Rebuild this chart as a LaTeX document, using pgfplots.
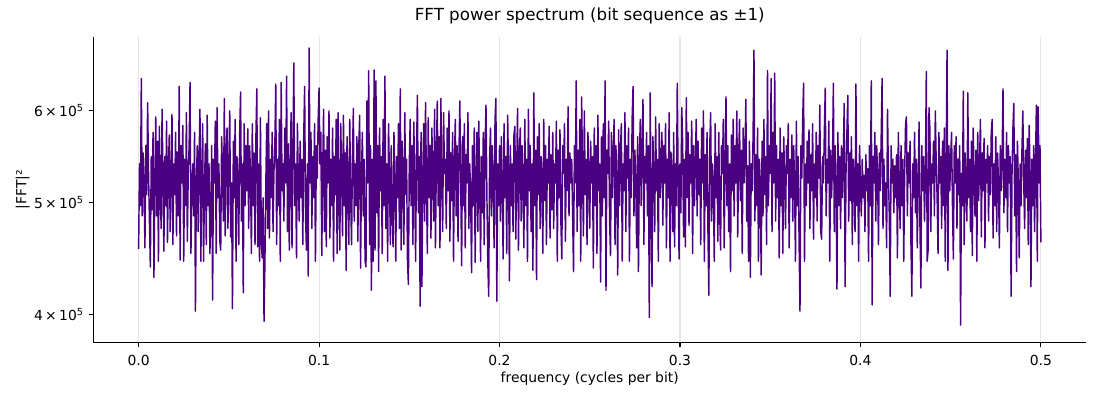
\documentclass[border=0pt]{standalone}
\usepackage{fontspec}
\setmainfont{DejaVu Sans}
\usepackage{pgfplots}
\pgfplotsset{compat=1.18}
\definecolor{indigo}{HTML}{4B0082}
\definecolor{gridc}{HTML}{E6E6E6}
\begin{document}
\begin{tikzpicture}
\path[use as bounding box] (-67.32pt,-41.54pt) rectangle (724.68pt,246.46pt);
\begin{axis}[
  scale only axis, width=714.6pt, height=219.6pt,
  ymode=log,
  xmin=-0.025, xmax=0.525, ymin=378900, ymax=694800,
  axis x line*=bottom, axis y line*=left,
  axis line style={line width=0.8pt, black},
  xtick={0,0.1,0.2,0.3,0.4,0.5},
  xticklabels={0.0,0.1,0.2,0.3,0.4,0.5},
  ytick={400000,500000,600000},
  yticklabels={4\,×\,10\textsuperscript{5},5\,×\,10\textsuperscript{5},6\,×\,10\textsuperscript{5}},
  yminorticks=false, xminorticks=false,
  tick align=outside, major tick length=3.5pt,
  tick style={line width=0.8pt, black},
  xmajorgrids, grid style={gridc, line width=0.8pt},
  tick label style={font=\fontsize{10}{12}\selectfont},
  xticklabel style={anchor=north, yshift=-2pt},
  yticklabel style={anchor=east},
  title={FFT power spectrum (bit sequence as ±1)},
  title style={at={(0.5,1)}, anchor=base, yshift=6pt, font=\fontsize{12}{14}\selectfont},
  xlabel={frequency (cycles per bit)},
  xlabel style={at={(axis description cs:0.5,0)}, anchor=center, yshift=-26.5pt, font=\fontsize{10}{12}\selectfont},
  ylabel={|FFT|²},
  ylabel style={at={(axis description cs:0,0.5)}, anchor=center, rotate=0, yshift=51pt, font=\fontsize{10}{12}\selectfont},
]
\addplot[indigo, line width=1.05pt, line join=round, mark=none] table[header=false, row sep=\\, x expr=\coordindex*0.0005, y expr=\thisrowno{0}*1000] {
456\\540\\497\\640\\487\\552\\520\\457\\560\\508\\610\\530\\482\\440\\548\\493\\575\\431\\520\\593\\
487\\565\\445\\582\\512\\475\\602\\528\\454\\548\\497\\588\\462\\535\\572\\472\\525\\596\\460\\540\\
508\\575\\468\\553\\487\\630\\446\\560\\520\\583\\445\\545\\497\\598\\463\\530\\560\\635\\452\\520\\
540\\487\\575\\403\\520\\560\\472\\545\\602\\445\\530\\585\\445\\517\\562\\460\\595\\497\\540\\452\\
487\\560\\412\\545\\520\\588\\452\\604\\505\\540\\463\\455\\570\\530\\482\\615\\468\\552\\580\\475\\
540\\600\\467\\520\\405\\565\\505\\590\\445\\548\\525\\460\\572\\623\\482\\540\\418\\585\\497\\560\\
512\\579\\475\\560\\530\\452\\585\\497\\552\\460\\570\\627\\458\\540\\445\\592\\462\\448\\505\\395\\
445\\520\\585\\475\\600\\466\\545\\505\\575\\472\\532\\560\\633\\460\\545\\497\\590\\445\\635\\512\\
540\\482\\580\\520\\643\\472\\562\\455\\530\\598\\457\\550\\660\\497\\540\\448\\585\\520\\482\\565\\
505\\545\\460\\570\\630\\487\\455\\540\\432\\680\\520\\575\\475\\548\\505\\585\\445\\560\\525\\590\\
628\\540\\575\\450\\530\\602\\472\\555\\458\\570\\520\\600\\466\\545\\497\\580\\445\\548\\508\\590\\
452\\598\\505\\455\\585\\530\\468\\595\\497\\552\\437\\570\\520\\460\\590\\508\\460\\548\\603\\482\\
540\\497\\570\\463\\558\\595\\439\\530\\575\\487\\545\\445\\440\\612\\520\\650\\460\\560\\420\\545\\
445\\651\\455\\637\\490\\560\\436\\580\\512\\548\\452\\590\\497\\643\\475\\540\\445\\585\\525\\460\\
560\\490\\458\\575\\525\\445\\548\\505\\585\\475\\627\\455\\565\\530\\460\\598\\508\\545\\445\\425\\
540\\590\\497\\560\\460\\587\\520\\445\\555\\619\\490\\548\\407\\575\\423\\530\\585\\482\\610\\520\\
452\\592\\505\\560\\466\\580\\525\\482\\602\\457\\545\\612\\497\\570\\457\\615\\520\\472\\598\\530\\
545\\475\\580\\512\\600\\463\\552\\502\\575\\445\\540\\590\\487\\560\\463\\548\\612\\520\\441\\570\\
497\\585\\457\\550\\520\\598\\475\\540\\508\\435\\560\\497\\580\\444\\530\\575\\472\\588\\520\\445\\
548\\490\\575\\460\\560\\607\\508\\445\\415\\545\\580\\487\\560\\520\\457\\590\\615\\411\\540\\497\\
560\\482\\570\\520\\447\\585\\505\\548\\452\\595\\530\\428\\560\\497\\540\\472\\572\\582\\465\\530\\
603\\455\\548\\580\\482\\560\\520\\457\\590\\497\\545\\445\\602\\512\\560\\472\\540\\437\\622\\497\\
555\\429\\570\\508\\585\\475\\548\\525\\452\\590\\502\\560\\460\\545\\520\\582\\466\\550\\493\\575\\
475\\540\\520\\588\\445\\555\\505\\578\\482\\447\\560\\530\\585\\463\\545\\512\\605\\487\\552\\520\\
545\\490\\436\\560\\520\\637\\472\\555\\497\\590\\445\\617\\530\\468\\600\\508\\545\\460\\575\\525\\
475\\565\\520\\548\\439\\580\\497\\560\\452\\595\\512\\540\\427\\570\\487\\585\\505\\637\\420\\555\\
530\\588\\482\\450\\575\\505\\548\\590\\460\\560\\520\\433\\578\\497\\552\\585\\445\\540\\512\\598\\
472\\560\\525\\580\\445\\545\\505\\592\\630\\487\\555\\520\\457\\570\\436\\545\\590\\497\\560\\614\\
460\\548\\520\\575\\487\\560\\398\\622\\497\\423\\570\\530\\472\\593\\512\\545\\445\\585\\505\\540\\
575\\478\\560\\520\\585\\457\\545\\505\\598\\445\\553\\530\\472\\575\\458\\540\\497\\634\\520\\447\\
540\\490\\604\\560\\467\\545\\458\\616\\505\\575\\478\\550\\520\\588\\452\\560\\497\\540\\590\\487\\
565\\508\\545\\460\\580\\520\\600\\445\\550\\497\\575\\472\\416\\560\\598\\482\\540\\520\\445\\585\\
505\\548\\463\\575\\490\\455\\560\\530\\590\\457\\545\\617\\497\\560\\472\\540\\436\\572\\512\\590\\
487\\560\\520\\600\\467\\545\\590\\502\\555\\452\\580\\520\\548\\614\\482\\538\\445\\565\\431\\540\\
512\\570\\677\\482\\550\\497\\580\\445\\545\\520\\433\\565\\487\\590\\508\\548\\460\\650\\497\\560\\
530\\640\\472\\575\\520\\647\\482\\560\\505\\545\\448\\580\\497\\552\\452\\570\\520\\475\\560\\530\\
585\\457\\545\\505\\572\\482\\560\\520\\445\\588\\497\\548\\463\\403\\560\\525\\590\\634\\445\\540\\
497\\565\\520\\578\\475\\550\\512\\585\\465\\540\\505\\575\\482\\560\\525\\607\\472\\465\\548\\520\\
575\\628\\487\\545\\520\\588\\445\\555\\505\\540\\634\\472\\560\\512\\421\\575\\497\\548\\475\\560\\
505\\545\\609\\423\\530\\575\\619\\482\\552\\502\\570\\460\\545\\520\\472\\633\\497\\540\\445\\560\\
520\\487\\545\\505\\528\\472\\550\\512\\535\\445\\560\\497\\637\\408\\548\\520\\575\\482\\560\\530\\
460\\552\\512\\570\\640\\475\\545\\497\\520\\457\\602\\530\\487\\415\\560\\520\\545\\490\\538\\505\\
550\\448\\575\\520\\475\\560\\497\\545\\445\\530\\585\\593\\487\\552\\520\\565\\460\\415\\540\\505\\
575\\490\\545\\457\\520\\587\\475\\422\\560\\512\\548\\482\\530\\649\\445\\455\\604\\578\\472\\540\\
520\\565\\487\\600\\540\\505\\452\\575\\520\\548\\475\\565\\497\\580\\445\\540\\677\\437\\560\\512\\
548\\575\\497\\447\\560\\520\\570\\475\\545\\508\\560\\392\\530\\497\\624\\460\\552\\520\\482\\622\\
505\\545\\472\\565\\450\\580\\520\\487\\555\\445\\575\\502\\540\\590\\467\\552\\512\\568\\457\\545\\
520\\560\\482\\548\\508\\575\\590\\466\\540\\497\\570\\472\\552\\520\\457\\560\\512\\545\\627\\490\\
545\\505\\575\\472\\560\\520\\548\\415\\530\\580\\609\\487\\550\\436\\565\\520\\448\\540\\497\\555\\
600\\520\\475\\555\\505\\568\\460\\583\\530\\423\\545\\497\\560\\472\\540\\607\\445\\605\\520\\560\\
462\\
};
\end{axis}
\end{tikzpicture}
\end{document}
